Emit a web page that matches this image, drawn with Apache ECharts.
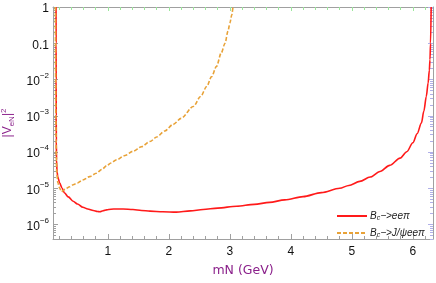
<!DOCTYPE html>
<html><head><meta charset="utf-8">
<script src="https://cdn.jsdelivr.net/npm/echarts@6/dist/echarts.min.js"></script>
<style>html,body{margin:0;padding:0;background:#fff}#c{width:436px;height:283px}</style>
</head><body><div id="c"></div>
<script>
// ---- data ----
const redX = [0.150,0.151,0.152,0.153,0.155,0.158,0.166,0.18,0.21,0.25,0.29,0.35,0.43,0.5,0.59,0.67,0.76,0.83,0.87,0.92,0.98,1.05,1.14,1.25,1.41,1.55,1.69,1.9,2.12,2.35,2.56,2.8,3.11,3.4,3.65,3.9,4.2,4.5,4.8,4.95,5.13,5.3,5.46,5.62,5.79,5.9,6.0,6.07,6.14,6.18,6.22,6.25,6.27,6.28,6.29,6.30];
const redY = [1,0.1,1e-2,1e-3,2e-4,6e-5,2.9e-5,2e-5,1.4e-5,1e-5,7.4e-6,5.8e-6,4.4e-6,3.7e-6,3.0e-6,2.7e-6,2.45e-6,2.3e-6,2.25e-6,2.4e-6,2.55e-6,2.65e-6,2.7e-6,2.68e-6,2.6e-6,2.45e-6,2.35e-6,2.25e-6,2.2e-6,2.38e-6,2.6e-6,2.85e-6,3.2e-6,3.6e-6,4.1e-6,4.8e-6,5.9e-6,7.6e-6,1.0e-5,1.2e-5,1.55e-5,2.05e-5,2.9e-5,4.3e-5,6.8e-5,1.02e-4,1.8e-4,3.2e-4,6.3e-4,1.35e-3,3.4e-3,8e-3,1.8e-2,3.5e-2,0.1,1];
const orangeX = [0.140,0.141,0.143,0.146,0.15,0.155,0.16,0.18,0.21,0.24,0.26,0.3,0.374,0.43,0.5,0.59,0.7,0.81,0.9,0.98,1.05,1.14,1.28,1.41,1.55,1.69,1.8,1.93,2.07,2.2,2.4,2.52,2.62,2.7,2.78,2.86,2.92,2.97,3.0,3.03,3.05];
const orangeY = [1,0.1,1e-2,1e-3,2e-4,6e-5,2.8e-5,1.4e-5,1e-5,8e-6,8.5e-6,9.5e-6,1.1e-5,1.25e-5,1.4e-5,1.7e-5,2.1e-5,2.6e-5,3.3e-5,4.2e-5,5e-5,6.1e-5,8e-5,1.05e-4,1.4e-4,1.95e-4,2.6e-4,3.8e-4,5.8e-4,8.5e-4,1.8e-3,3.4e-3,6.4e-3,1.2e-2,2.3e-2,5.5e-2,0.1,0.22,0.36,0.6,1];
const seriesNames = ['Bc->eeπ','Bc->J/ψeeπ'];
const xTickLabels = [1,2,3,4,5,6];
const xMinorTicks = [0.2,0.4,0.6,0.8,1.2,1.4,1.6,1.8,2.2,2.4,2.6,2.8,3.2,3.4,3.6,3.8,4.2,4.4,4.6,4.8,5.2,5.4,5.6,5.8,6.2];
const yTickLabels = [1e-6,1e-5,1e-4,1e-3,1e-2,0.1,1];
const yMinorTicks = [];
for (let e = -7; e <= -1; e++) for (let m = 2; m <= 9; m++) { const v = m * Math.pow(10, e); if (v >= 4e-7 && v < 1) yMinorTicks.push(+v.toPrecision(3)); }

const xMin = 0.1, xMax = 6.33, yMin = 4e-7, yMax = 1;
const frame = '#a0a0a0', green = '#9be89b', blue = '#b0b0e8';
const FONT = 'Liberation Sans, Arial, sans-serif';

function xAx(pos, vals, len, col, line, labels) {
  return { type: 'value', position: pos, min: xMin, max: xMax,
    axisLine: { show: line, onZero: false, lineStyle: { color: frame, width: 1 } },
    axisTick: { show: true, inside: true, length: len, customValues: vals, lineStyle: { color: col } },
    axisLabel: labels ? { show: true, customValues: vals, margin: 7, color: '#111', fontSize: 12, fontFamily: FONT } : { show: false },
    splitLine: { show: false } };
}
function yAx(pos, vals, len, col, line, labels) {
  return { type: 'log', logBase: 10, position: pos, min: yMin, max: yMax,
    axisLine: { show: line, onZero: false, lineStyle: { color: frame, width: 1 } },
    axisTick: { show: true, inside: true, length: len, customValues: vals, lineStyle: { color: col } },
    axisLabel: labels ? { show: true, customValues: vals, margin: 4, color: '#111', fontFamily: FONT,
      formatter: v => { const e = Math.round(Math.log10(v)); if (e === 0) return '{b|1}'; if (e === -1) return '{b|0.1}'; return '{b|10}{s|−' + (-e) + '}'; },
      rich: { b: { fontSize: 12, fontFamily: FONT, color: '#111', verticalAlign: 'bottom', lineHeight: 16 },
              s: { fontSize: 8, fontFamily: FONT, color: '#111', verticalAlign: 'top', lineHeight: 16 } } } : { show: false },
    splitLine: { show: false } };
}

const xAxes = [ xAx('bottom', xTickLabels, 5, frame, true, true), xAx('bottom', xMinorTicks, 3, frame, false, false),
  xAx('top', xTickLabels, 4, green, true, false), xAx('top', xMinorTicks, 3, green, false, false) ];
xAxes[0].name = 'mN (GeV)'; xAxes[0].nameLocation = 'middle'; xAxes[0].nameGap = 25;
xAxes[0].nameTextStyle = { color: '#8a1f8a', fontSize: 12.5, fontFamily: 'DejaVu Sans, sans-serif' };
const yAxes = [ yAx('left', yTickLabels, 5, frame, true, true), yAx('left', yMinorTicks, 3, frame, false, false),
  yAx('right', yTickLabels, 5, blue, true, false), yAx('right', yMinorTicks, 3, blue, false, false) ];
yAxes[0].name = '{n||V}{sub|eN}{n||}{sup|2}'; yAxes[0].nameLocation = 'middle'; yAxes[0].nameGap = 37;
yAxes[0].nameTextStyle = { color: '#8a1f8a', fontFamily: FONT, rich: {
  n: { fontSize: 12, color: '#8a1f8a', fontFamily: FONT, verticalAlign: 'middle', lineHeight: 16 },
  sub: { fontSize: 8, color: '#8a1f8a', fontFamily: FONT, verticalAlign: 'bottom', lineHeight: 16 },
  sup: { fontSize: 8, color: '#8a1f8a', fontFamily: FONT, verticalAlign: 'top', lineHeight: 16 } } };

const chart = echarts.init(document.getElementById('c'), null, { renderer: 'canvas' });
chart.setOption({
  animation: false,
  backgroundColor: '#fff',
  grid: { left: 53, right: 3, top: 7, bottom: 44, containLabel: false, outerBoundsMode: 'none' },
  xAxis: xAxes,
  yAxis: yAxes,
  legend: { left: 331, top: 206, orient: 'vertical', itemWidth: 30, itemHeight: 10, itemGap: 6,
    data: seriesNames,
    itemStyle: { opacity: 0 },
    formatter: n => n === seriesNames[0] ? '{i|B}{sub|c}{i|−>ee}{i|π}' : '{i|B}{sub|c}{i|−>J/ψee}{i|π}',
    textStyle: { padding: [0, 0, 0, -2], rich: {
      i: { fontSize: 10, fontStyle: 'italic', fontFamily: FONT, color: '#222', verticalAlign: 'middle', lineHeight: 12 },
      sub: { fontSize: 7, fontStyle: 'italic', fontFamily: FONT, color: '#222', verticalAlign: 'bottom', lineHeight: 12 } } } },
  series: [
    { name: seriesNames[0], type: 'line', xAxisIndex: 0, yAxisIndex: 0, symbol: 'none', showSymbol: false,
      smooth: 0.3, smoothMonotone: 'x',
      data: redX.map((x, i) => [x, redY[i]]), lineStyle: { color: '#ff1a1a', width: 1.6 }, itemStyle: { color: '#ff1a1a' } },
    { name: seriesNames[1], type: 'line', xAxisIndex: 0, yAxisIndex: 0, symbol: 'none', showSymbol: false,
      smooth: 0.3, smoothMonotone: 'x',
      data: orangeX.map((x, i) => [x, orangeY[i]]), lineStyle: { color: '#e8a238', width: 1.6, type: [4, 2] }, itemStyle: { color: '#e8a238' } }
  ]
});
</script></body></html>
